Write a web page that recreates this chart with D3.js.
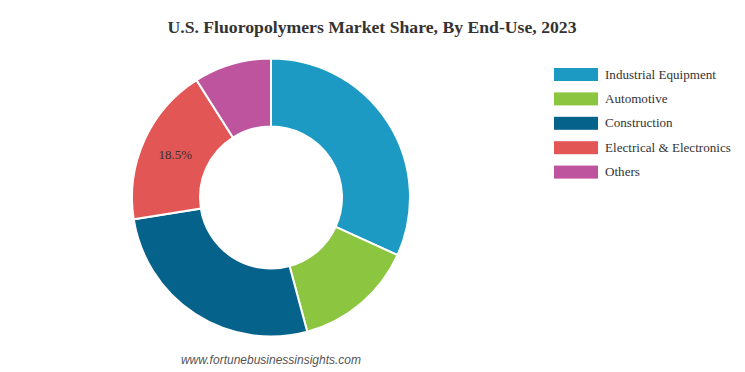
<!DOCTYPE html>
<html>
<head>
<meta charset="utf-8">
<script src="https://cdn.jsdelivr.net/npm/d3@7"></script>
<style>
  body { margin: 0; background: #fff; }
  svg { display: block; }
</style>
</head>
<body>
<div id="chart"></div>
<script>
(function(d3) {
  "use strict";

  // Données
  var categories = ["Industrial Equipment", "Automotive", "Construction", "Electrical & Electronics", "Others"];
  var shares = [31.8, 14.0, 26.7, 18.5, 9.0];
  var colors = ["#1c9ac3", "#8cc640", "#05628a", "#e35656", "#be549e"];
  var shownLabels = ["Electrical & Electronics"];

  var width = 745, height = 372;
  var center = {x: 271, y: 197.5};
  var outerR = 139, innerR = 71;

  var svg = d3.select("#chart")
    .append("svg")
    .attr("width", width)
    .attr("height", height);

  // Titre
  svg.append("text")
    .attr("x", 372)
    .attr("y", 33)
    .attr("text-anchor", "middle")
    .attr("font-family", "'Liberation Serif', serif")
    .attr("font-weight", "bold")
    .attr("font-size", "17.7px")
    .attr("fill", "#333")
    .text("U.S. Fluoropolymers Market Share, By End-Use, 2023");

  var data = categories.map(function(c, i) { return {name: c, value: shares[i], color: colors[i]}; });

  var pie = d3.pie().sort(null).value(function(d) { return d.value; });
  var arc = d3.arc().innerRadius(innerR).outerRadius(outerR);

  var g = svg.append("g")
    .attr("transform", `translate(${center.x},${center.y})`);

  var arcs = pie(data);

  g.selectAll("path")
    .data(arcs)
    .enter().append("path")
    .attr("d", arc)
    .attr("fill", function(d) { return d.data.color; })
    .attr("stroke", "#fff")
    .attr("stroke-width", 2);

  // Étiquette de pourcentage
  g.selectAll("text.pct")
    .data(arcs.filter(function(d) { return shownLabels.indexOf(d.data.name) >= 0; }))
    .enter().append("text")
    .attr("class", "pct")
    .attr("transform", function(d) { return `translate(${arc.centroid(d)})`; })
    .attr("dy", "0.35em")
    .attr("text-anchor", "middle")
    .attr("font-family", "'Liberation Serif', serif")
    .attr("font-size", "13px")
    .attr("fill", "#333")
    .text(function(d) { return d.data.value.toFixed(1) + "%"; });

  // Légende
  var legend = svg.append("g")
    .attr("transform", "translate(554, 68)");
  var items = legend.selectAll("g")
    .data(data)
    .enter().append("g")
    .attr("transform", function(d, i) { return `translate(0, ${i * 24.4})`; });
  items.append("rect")
    .attr("width", 44)
    .attr("height", 13)
    .attr("fill", function(d) { return d.color; });
  items.append("text")
    .attr("x", 51)
    .attr("y", 10.5)
    .attr("font-family", "'Liberation Serif', serif")
    .attr("font-size", "13.1px")
    .attr("fill", "#333")
    .text(function(d) { return d.name; });

  // Source
  svg.append("text")
    .attr("x", 271)
    .attr("y", 364)
    .attr("text-anchor", "middle")
    .attr("font-family", "'Liberation Sans', Arial, sans-serif")
    .attr("font-style", "italic")
    .attr("font-size", "12px")
    .attr("fill", "#555")
    .text("www.fortunebusinessinsights.com");

})(d3);
</script>
</body>
</html>
